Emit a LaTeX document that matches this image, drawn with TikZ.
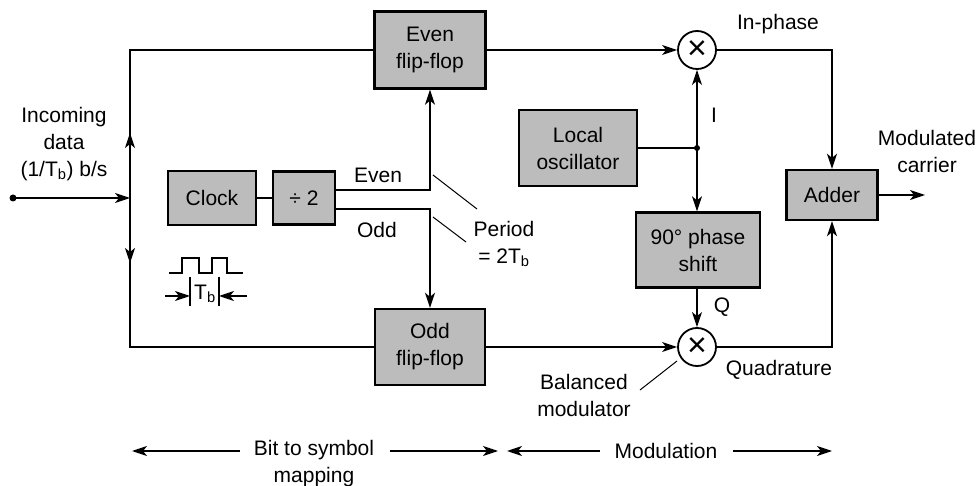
\documentclass[tikz,border=0pt]{standalone}
\usepackage{fontspec}
\setmainfont{Liberation Sans}
\usetikzlibrary{arrows.meta}
\begin{document}
\begin{tikzpicture}[x=1pt,y=-1pt,
  every node/.style={font=\fontsize{21}{27}\selectfont, align=center, inner sep=0pt},
  blk/.style={draw, line width=2.4pt, fill={rgb,255:red,188;green,188;blue,188}},
  mult/.style={draw, circle, line width=1.8pt, minimum size=38pt, font=\fontsize{34}{34}\selectfont},
  ln/.style={line width=1.4pt},
  arr/.style={ln, -{Stealth[length=15pt,width=10pt,inset=4pt]}},
  ptr/.style={line width=1pt}]
\useasboundingbox (0,0) rectangle (978,486);

% blocks
\node[blk, minimum width=111pt, minimum height=77pt] (even) at (430,50) {Even\\flip-flop};
\node[blk, minimum width=110pt, minimum height=76pt] (odd) at (430,347) {Odd\\flip-flop};
\node[blk, minimum width=88pt, minimum height=54pt] (clock) at (212,198) {Clock};
\node[blk, minimum width=62pt, minimum height=53pt] (div) at (304,198) {÷ 2};
\node[blk, minimum width=118pt, minimum height=76pt] (lo) at (578,148) {Local\\oscillator};
\node[blk, minimum width=124pt, minimum height=75pt] (ps) at (698,250) {90° phase\\shift};
\node[blk, minimum width=91pt, minimum height=50pt] (adder) at (832,195) {Adder};
\node[mult] (mi) at (697,50) {\raisebox{-1pt}{×}};
\node[mult] (mq) at (697,347) {\raisebox{-1pt}{×}};

% coordinates
\coordinate (in) at (13,198);
\coordinate (J) at (130,198);
\coordinate (dot) at (697,148);
\coordinate (out) at (925,195);
\fill (in) circle (3.5pt);
\fill (dot) circle (3pt);

% input and left bus
\draw[arr] (in) -- (J);
\draw[arr] (J) -- (130,133);
\draw[arr] (J) -- (130,263);
\draw[ln] (130,135) |- (even.west);
\draw[ln] (130,261) |- (odd.west);

% clock and divider
\draw[ln] (clock.east) -- (div.east -| div.west);
\draw[arr] (div.east |- 0,190) -| (even.south);
\draw[arr] (div.east |- 0,209) -| (odd.north);

% flip-flops to multipliers
\draw[arr] (even.east) -- (mi.west);
\draw[arr] (odd.east) -- (mq.west);

% oscillator
\draw[ln] (lo.east |- dot) -- (dot);
\draw[arr] (dot) -- (mi.south);
\draw[arr] (dot) -- (ps.north -| dot);
\draw[arr] (ps.south -| mq) -- (mq.north);

% adder
\draw[arr] (mi.east) -| (adder.north);
\draw[arr] (mq.east) -| (adder.south);
\draw[arr] (adder.east) -- (out);

% labels
\node (lin) at (64,144) {Incoming\\data\\(1/T\textsubscript{b}) b/s};
\node (leven) at (378,175) {Even};
\node (lodd) at (377,230) {Odd};
\node (lper) at (504,244) {Period\\= 2T\textsubscript{b}};
\draw[ptr] (433,175) -- (477,209);
\draw[ptr] (433,217) -- (466,242);
\node (linph) at (778,24) {In-phase};
\node (lI) at (714,115) {I};
\node (lQ) at (722,307) {Q};
\node (lquad) at (779,370) {Quadrature};
\node (lmod) at (927,151) {Modulated\\carrier};
\node (lbal) at (584,395) {Balanced\\modulator};
\draw[ptr] (640,390) -- (677,361);

% clock waveform
\draw[line width=1.2pt] (169,273) -- (182,273) -- (182,258) -- (199,258) -- (199,273) -- (212,273) -- (212,258) -- (227,258) -- (227,273) -- (243,273);
\draw[line width=1.2pt] (190,277) -- (190,306);
\draw[line width=1.2pt] (219,277) -- (219,306);
\draw[arr] (165,296) -- (190,296);
\draw[arr] (247,296) -- (219,296);
\node (ltb) at (205,294) {T\textsubscript{b}};

% bottom
\node (lbit) at (314,464) {Bit to symbol\\mapping};
\node (lmodn) at (666,451) {Modulation};
\draw[arr] (240,451) -- (132,451);
\draw[arr] (390,451) -- (498,451);
\draw[arr] (600,451) -- (507,451);
\draw[arr] (733,451) -- (832,451);
\end{tikzpicture}
\end{document}
